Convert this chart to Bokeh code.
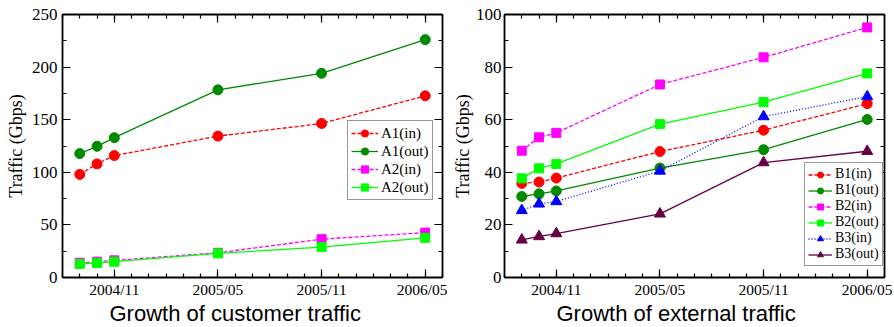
from bokeh.plotting import figure
from bokeh.layouts import row
from bokeh.models import (LinearAxis, FixedTicker, Range1d, Legend, LegendItem,
                          CustomLabelingPolicy, Title)
from bokeh.embed import file_html
from bokeh.resources import INLINE

# ---- data ----
dates = ["2004/09", "2004/10", "2004/11", "2005/05", "2005/11", "2006/05"]
tick_dates = ["2004/11", "2005/05", "2005/11", "2006/05"]
x_first, x_last = "2004/08", "2006/06"

a1_in = [98.0, 108.0, 115.9, 134.4, 146.4, 172.7]
a1_out = [117.8, 124.7, 132.9, 178.4, 194.1, 226.1]
a2_in = [14.0, 15.0, 16.3, 23.5, 36.4, 42.7]
a2_out = [12.9, 13.8, 15.0, 22.9, 28.9, 37.7]

b1_in = [35.8, 36.3, 37.8, 47.9, 56.0, 66.1]
b1_out = [30.8, 31.8, 32.9, 41.6, 48.6, 60.1]
b2_in = [48.2, 53.3, 55.0, 73.4, 83.7, 95.1]
b2_out = [37.7, 41.5, 43.2, 58.3, 66.7, 77.6]
b3_in = [25.5, 28.0, 28.9, 40.5, 61.2, 68.8]
b3_out = [14.3, 15.6, 16.7, 24.2, 43.7, 48.0]

left_title = "Growth of customer traffic"
right_title = "Growth of external traffic"
y_title = "Traffic (Gbps)"


def midx(s):
    y, m = map(int, s.split("/"))
    return (y - 2004) * 12 + (m - 8)


xs = [midx(d) for d in dates]
x0, x1 = midx(x_first), midx(x_last)

RED, GREEN, MAG, LIME, BLUE, MAROON = "#ff0000", "#008a00", "#ff00ff", "#00ff00", "#0000ff", "#660044"
SERIF = "Liberation Serif"
SANS = "Liberation Sans"

NO_LABELS = "for (const i of Array.from(indices)) { indices.unset(i) }\nreturn indices"


def style_axis(ax, labels=True):
    ax.axis_line_width = 1.8
    ax.axis_line_color = "black"
    ax.major_tick_in = 8
    ax.major_tick_out = 0
    ax.minor_tick_in = 4
    ax.minor_tick_out = 0
    ax.major_tick_line_width = 1.2
    ax.minor_tick_line_width = 1.2
    ax.major_tick_line_color = "black"
    ax.minor_tick_line_color = "black"
    ax.major_label_text_color = "black"
    ax.axis_label_text_color = "black"
    if not labels:
        ax.major_label_policy = CustomLabelingPolicy(code=NO_LABELS)
        ax.major_label_text_font_size = "0px"
        ax.major_label_standoff = 0


def make_fig(series, ymax, ystep, yminor, title, title_offset, legend_loc, legend_font,
             glyph_w, item_h, border_left, border_right, ylab_standoff, ytitle_standoff):
    p = figure(width=447, height=327, output_backend="svg", toolbar_location=None,
               x_range=Range1d(x0, x1), y_range=Range1d(0, ymax),
               min_border_left=border_left, min_border_right=border_right,
               min_border_top=14, min_border_bottom=48)
    p.outline_line_color = None
    p.grid.visible = False
    xt = FixedTicker(ticks=[midx(d) for d in tick_dates], minor_ticks=list(range(x0, x1 + 1)))
    yt = FixedTicker(ticks=list(range(0, ymax + 1, ystep)), minor_ticks=list(range(0, ymax + 1, yminor)))
    p.xaxis.ticker = xt
    p.yaxis.ticker = yt
    p.xaxis.major_label_overrides = {midx(d): d for d in tick_dates}
    for ax in p.xaxis:
        style_axis(ax)
        ax.major_label_text_font = SERIF
        ax.major_label_text_font_size = "15.5px"
        ax.major_label_standoff = 3
    for ax in p.yaxis:
        style_axis(ax)
        ax.major_label_text_font = SERIF
        ax.major_label_text_font_size = "17px"
        ax.major_label_standoff = ylab_standoff
        ax.axis_label = y_title
        ax.axis_label_text_font = SERIF
        ax.axis_label_text_font_size = "18px"
        ax.axis_label_text_font_style = "normal"
        ax.axis_label_standoff = ytitle_standoff
    top = LinearAxis(ticker=xt)
    style_axis(top, labels=False)
    p.add_layout(top, "above")
    right = LinearAxis(ticker=yt)
    style_axis(right, labels=False)
    p.add_layout(right, "right")

    items = []
    for label, vals, color, marker, dash, size in series:
        ln = p.line(xs, vals, line_color=color, line_width=1.3, line_dash=dash)
        sc = p.scatter(xs, vals, marker=marker, size=size, fill_color=color, line_color=color)
        items.append(LegendItem(label=label, renderers=[ln, sc]))
    leg = Legend(items=items, location=legend_loc, label_text_font=SERIF,
                 label_text_font_size=legend_font, label_text_color="black",
                 glyph_width=glyph_w, glyph_height=item_h,
                 label_height=item_h, spacing=0, padding=3, margin=0, label_standoff=3,
                 border_line_color="#333333", border_line_width=1.5, background_fill_alpha=1.0)
    p.add_layout(leg)
    p.add_layout(Title(text=title, align="left", offset=title_offset, standoff=0,
                       vertical_align="top", text_font=SANS, text_font_size="22px",
                       text_font_style="normal", text_color="black"), "below")
    return p


left = make_fig([
    ("A1(in)", a1_in, RED, "circle", "4 2", 10),
    ("A1(out)", a1_out, GREEN, "circle", "solid", 10),
    ("A2(in)", a2_in, MAG, "square", "4 2", 9),
    ("A2(out)", a2_out, LIME, "square", "solid", 9),
], 250, 50, 25, left_title, 47, (285, 77), "15px", 27, 18, 62, 5, 5, 3)

right = make_fig([
    ("B1(in)", b1_in, RED, "circle", "4 2", 10),
    ("B1(out)", b1_out, GREEN, "circle", "solid", 10),
    ("B2(in)", b2_in, MAG, "square", "4 2", 9),
    ("B2(out)", b2_out, LIME, "square", "solid", 9),
    ("B3(in)", b3_in, BLUE, "triangle", "1 2", 11),
    ("B3(out)", b3_out, MAROON, "triangle", "solid", 11),
], 100, 20, 10, right_title, 52, (300, 11), "14px", 24, 15, 57, 10, 3, 0)

layout = row(left, right)
open("out.html", "w").write(file_html(layout, INLINE))
